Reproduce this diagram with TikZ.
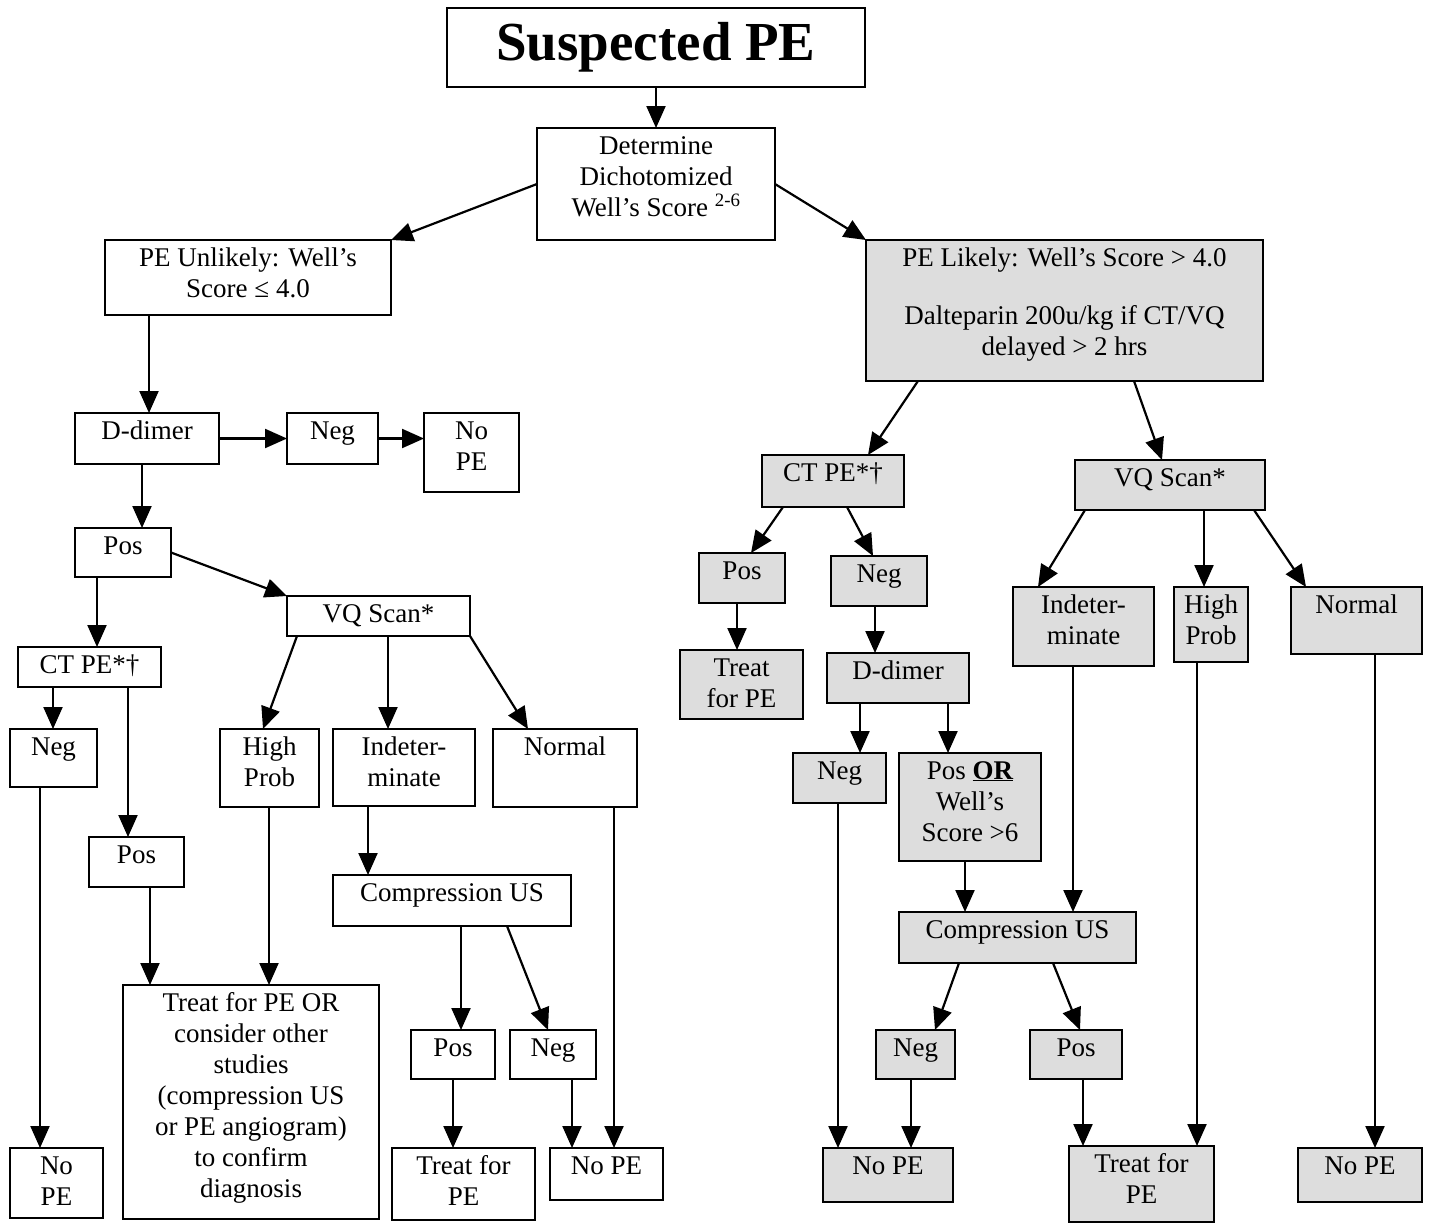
\documentclass[tikz,border=0pt]{standalone}
\usepackage{fontspec}
\setmainfont{Liberation Serif}
\usetikzlibrary{arrows.meta,calc}
\definecolor{boxgray}{HTML}{DDDDDD}
\tikzset{
  box/.style={draw=black,line width=2pt,inner sep=0pt,outer sep=0pt,rectangle,font=\fontsize{27}{31}\selectfont},
  gbox/.style={box,fill=boxgray},
  arr/.style={line width=2.2pt,-{Triangle[length=22pt,width=19pt]}},
}
\newcommand\mybox[7][]{%
  \pgfmathsetmacro\bw{#5-#3}%
  \pgfmathsetmacro\bh{#6-#4}%
  \node[box,#1,minimum width=\bw pt,minimum height=\bh pt,anchor=north west] (#2) at (#3pt,-#4pt)
    {\parbox[t][\bh pt][t]{\bw pt}{\centering\rule{0pt}{26pt}#7\par}};%
}
\begin{document}
\begin{tikzpicture}
\path[use as bounding box,fill=white] (0,0) rectangle (1437pt,-1226pt);
% title
\node[box,minimum width=418pt,minimum height=79pt,font=\bfseries\fontsize{55}{60}\selectfont] (title) at (656pt,-47.5pt) {Suspected PE};
\mybox{det}{537}{128}{775}{240}{Determine\\Dichotomized\\Well’s Score \textsuperscript{2-6}}
% left branch
\mybox{unl}{105}{240}{391}{315}{PE Unlikely: Well’s\\Score ≤ 4.0}
\mybox{ddL}{75}{413}{219}{464}{D-dimer}
\mybox{negLa}{287}{413}{378}{464}{Neg}
\mybox{nopeLa}{424}{413}{519}{492}{No\\PE}
\mybox{posL}{75}{528}{171}{577}{Pos}
\mybox{vqL}{287}{596}{470}{636}{VQ Scan*}
\mybox{ctL}{18}{647}{161}{687}{CT PE*†}
\mybox{negLb}{10}{729}{97}{787}{Neg}
\mybox{posLb}{89}{837}{184}{887}{Pos}
\mybox{treatL}{123}{985}{379}{1219}{Treat for PE OR\\consider other\\studies\\(compression US\\or PE angiogram)\\to confirm\\diagnosis}
\mybox{nopeLb}{10}{1148}{103}{1218}{No\\PE}
\mybox{hpL}{220}{729}{319}{807}{High\\Prob}
\mybox{indL}{333}{729}{475}{806}{Indeter-\\minate}
\mybox{normL}{493}{729}{637}{807}{Normal}
\mybox{compL}{333}{875}{571}{926}{Compression US}
\mybox{posLc}{411}{1030}{495}{1079}{Pos}
\mybox{negLc}{510}{1030}{596}{1079}{Neg}
\mybox{treatLc}{392}{1148}{535}{1220}{Treat for\\PE}
\mybox{nopeLc}{550}{1148}{663}{1200}{No PE}
% right branch
\mybox[gbox]{lik}{866}{240}{1263}{381}{PE Likely: Well’s Score > 4.0\\[27pt]Dalteparin 200u/kg if CT/VQ\\delayed > 2 hrs}
\mybox[gbox]{ctR}{762}{455}{904}{507}{CT PE*†}
\mybox[gbox]{vqR}{1075}{460}{1265}{510}{VQ Scan*}
\mybox[gbox]{posR}{699}{553}{785}{603}{Pos}
\mybox[gbox]{negR}{831}{556}{927}{606}{Neg}
\mybox[gbox]{treatR}{680}{650}{803}{719}{Treat\\for PE}
\mybox[gbox]{ddR}{827}{653}{969}{703}{D-dimer}
\mybox[gbox]{negRb}{793}{753}{886}{803}{Neg}
\mybox[gbox]{posOR}{899}{753}{1041}{861}{Pos \textbf{\underline{OR}}\\Well’s\\Score >6}
\mybox[gbox]{compR}{899}{912}{1136}{963}{Compression US}
\mybox[gbox]{negRc}{876}{1030}{955}{1079}{Neg}
\mybox[gbox]{posRc}{1030}{1030}{1122}{1079}{Pos}
\mybox[gbox]{nopeRa}{823}{1148}{953}{1202}{No PE}
\mybox[gbox]{treatRb}{1069}{1146}{1214}{1222}{Treat for\\PE}
\mybox[gbox]{indR}{1013}{587}{1154}{666}{Indeter-\\minate}
\mybox[gbox]{hpR}{1174}{587}{1248}{662}{High\\Prob}
\mybox[gbox]{normR}{1291}{587}{1422}{654}{Normal}
\mybox[gbox]{nopeRb}{1298}{1148}{1422}{1202}{No PE}
% connectors left
\draw[arr] (title.south) -- (det.north);
\draw[arr] (det.west) -- (unl.north east);
\draw[arr] (det.east) -- (lik.north west);
\draw[arr] ([xshift=-99pt]unl.south) -- ([xshift=2pt]ddL.north);
\draw[arr] (ddL.east) -- (negLa.west);
\draw[arr] (negLa.east) -- (negLa.east -| nopeLa.west);
\draw[arr] ([xshift=-5pt]ddL.south) -- ([xshift=19pt]posL.north);
\draw[arr] (posL.east) -- (vqL.north west);
\draw[arr] ([xshift=-26pt]posL.south) -- ([xshift=7.5pt]ctL.north);
\draw[arr] ([xshift=-36.5pt]ctL.south) -- ([xshift=-0.5pt]negLb.north);
\draw[arr] ([xshift=38.5pt]ctL.south) -- ([xshift=-8.5pt]posLb.north);
\draw[arr] ([xshift=-13.5pt]negLb.south) -- ([xshift=-16.5pt]nopeLb.north);
\draw[arr] ([xshift=13.5pt]posLb.south) -- ([xshift=-101pt]treatL.north);
\draw[arr] ([xshift=-81.5pt]vqL.south) -- ([xshift=-6.5pt]hpL.north);
\draw[arr] ([xshift=9.5pt]vqL.south) -- ([xshift=-16pt]indL.north);
\draw[arr] (vqL.south east) -- ([xshift=-37pt]normL.north);
\draw[arr] ([xshift=-0.5pt]hpL.south) -- ([xshift=18pt]treatL.north);
\draw[arr] ([xshift=-36pt]indL.south) -- ([xshift=-84pt]compL.north);
\draw[arr] ([xshift=9pt]compL.south) -- ([xshift=8pt]posLc.north);
\draw[arr] ([xshift=55pt]compL.south) -- ([xshift=-5pt]negLc.north);
\draw[arr] (posLc.south) -- ([xshift=-10.5pt]treatLc.north);
\draw[arr] ([xshift=19pt]negLc.south) -- ([xshift=-34.5pt]nopeLc.north);
\draw[arr] ([xshift=49pt]normL.south) -- ([xshift=7.5pt]nopeLc.north);
% connectors right
\draw[arr] ([xshift=-146.5pt]lik.south) -- ([xshift=35pt]ctR.north);
\draw[arr] ([xshift=69.5pt]lik.south) -- ([xshift=-8pt]vqR.north);
\draw[arr] ([xshift=-50pt]ctR.south) -- ([xshift=9pt]posR.north);
\draw[arr] ([xshift=14pt]ctR.south) -- ([xshift=-6pt]negR.north);
\draw[arr] ([xshift=-5pt]posR.south) -- ([xshift=-4.5pt]treatR.north);
\draw[arr] ([xshift=-4pt]negR.south) -- ([xshift=-23pt]ddR.north);
\draw[arr] ([xshift=-38pt]ddR.south) -- ([xshift=20.5pt]negRb.north);
\draw[arr] ([xshift=50pt]ddR.south) -- ([xshift=-22pt]posOR.north);
\draw[arr] ([xshift=-1.5pt]negRb.south) -- ([xshift=-50pt]nopeRa.north);
\draw[arr] ([xshift=-5pt]posOR.south) -- ([xshift=-52.5pt]compR.north);
\draw[arr] ([xshift=-10.5pt]indR.south) -- ([xshift=55.5pt]compR.north);
\draw[arr] ([xshift=-58.5pt]compR.south) -- ([xshift=19.5pt]negRc.north);
\draw[arr] ([xshift=35.5pt]compR.south) -- ([xshift=4pt]posRc.north);
\draw[arr] ([xshift=-4.5pt]negRc.south) -- ([xshift=23pt]nopeRa.north);
\draw[arr] ([xshift=7pt]posRc.south) -- ([xshift=-58.5pt]treatRb.north);
\draw[arr] ([xshift=-85pt]vqR.south) -- ([xshift=-45.5pt]indR.north);
\draw[arr] ([xshift=34pt]vqR.south) -- ([xshift=-7pt]hpR.north);
\draw[arr] ([xshift=84pt]vqR.south) -- ([xshift=-50.5pt]normR.north);
\draw[arr] ([xshift=-14pt]hpR.south) -- ([xshift=55.5pt]treatRb.north);
\draw[arr] ([xshift=18.5pt]normR.south) -- ([xshift=15pt]nopeRb.north);
\end{tikzpicture}
\end{document}
